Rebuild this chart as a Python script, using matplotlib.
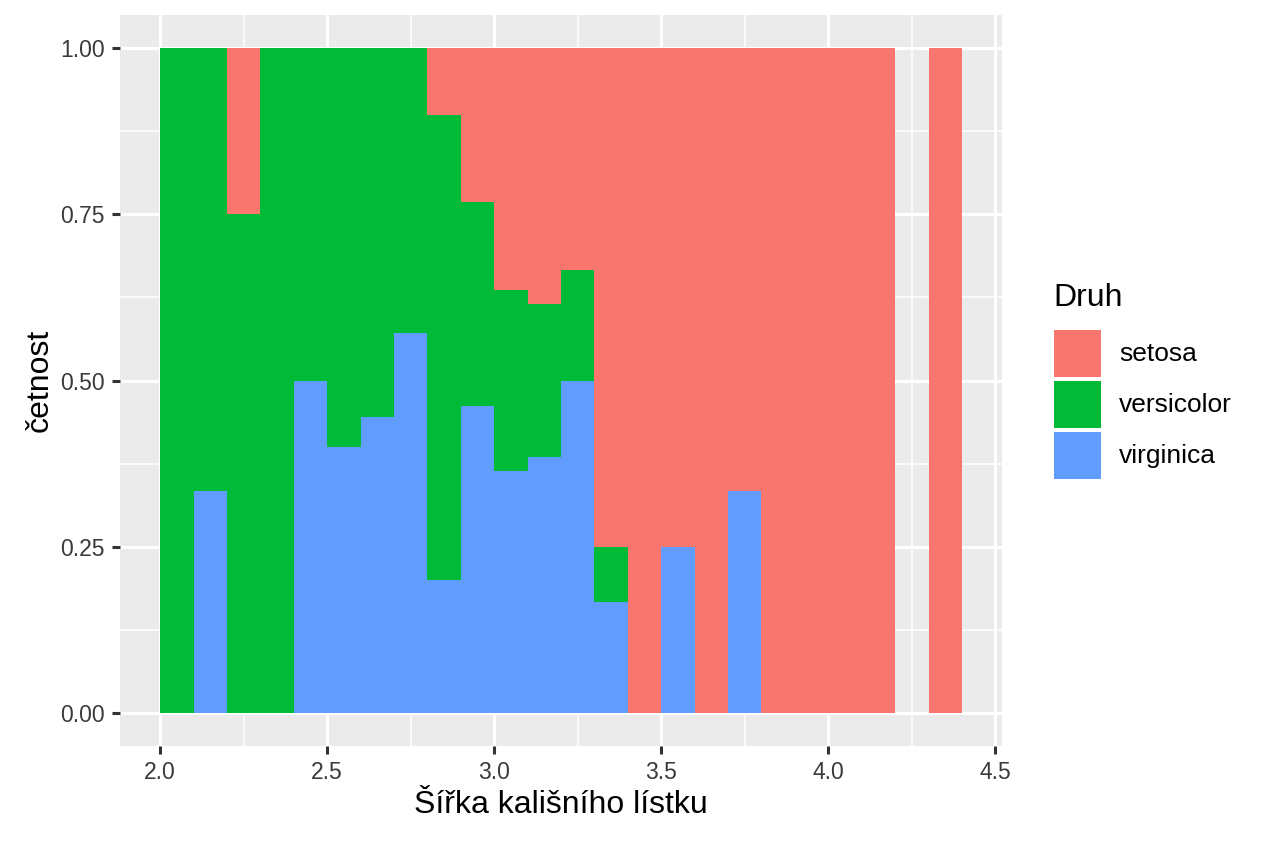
import numpy as np
import matplotlib.pyplot as plt
from matplotlib.patches import Rectangle

plt.rcParams['font.family'] = ['Liberation Sans', 'DejaVu Sans']

# bins of width 0.1 starting at 2.0 (Sepal width), counts per species
bin_left = [2.0, 2.1, 2.2, 2.3, 2.4, 2.5, 2.6, 2.7, 2.8, 2.9, 3.0, 3.1,
            3.2, 3.3, 3.4, 3.5, 3.6, 3.7, 3.8, 3.9, 4.0, 4.1, 4.2, 4.3]
setosa = [0, 0, 1, 0, 0, 0, 0, 0, 1, 6, 4, 5, 2, 9, 6, 3, 3, 4, 2, 1, 1, 1, 0, 1]
versicolor = [1, 2, 3, 3, 4, 3, 5, 6, 7, 8, 3, 3, 1, 1, 0, 0, 0, 0, 0, 0, 0, 0, 0, 0]
virginica = [0, 1, 0, 0, 4, 2, 4, 8, 2, 12, 4, 5, 3, 2, 0, 1, 0, 2, 0, 0, 0, 0, 0, 0]
species = ["setosa", "versicolor", "virginica"]
colors = ["#F8766D", "#00BA38", "#619CFF"]

counts = np.array([setosa, versicolor, virginica], dtype=float)
total = counts.sum(axis=0)
safe = np.where(total > 0, total, 1)
frac = counts / safe

W, H = 1264, 843
fig = plt.figure(figsize=(W/100, H/100), dpi=100)
ax = fig.add_axes([120/W, 1 - 746/H, (1002-120)/W, (746-15)/H])
ax.set_facecolor("#EBEBEB")

# stack: virginica at bottom, setosa on top
bottom = np.zeros(len(bin_left))
for i in [2, 1, 0]:
    ax.bar(bin_left, frac[i], width=0.1, bottom=bottom, align="edge",
           color=colors[i], linewidth=0, zorder=3)
    bottom = bottom + frac[i]

ax.set_xlim(1.88, 4.52)
ax.set_ylim(-0.05, 1.05)
ax.set_xticks([2.0, 2.5, 3.0, 3.5, 4.0, 4.5])
ax.set_xticklabels(["2.0", "2.5", "3.0", "3.5", "4.0", "4.5"])
ax.set_yticks([0, 0.25, 0.5, 0.75, 1.0])
ax.set_yticklabels(["0.00", "0.25", "0.50", "0.75", "1.00"])
ax.set_xticks([2.25, 2.75, 3.25, 3.75, 4.25], minor=True)
ax.set_yticks([0.125, 0.375, 0.625, 0.875], minor=True)
ax.grid(which="major", color="white", linewidth=2.2, zorder=1)
ax.grid(which="minor", color="white", linewidth=1.1, zorder=1)
ax.set_axisbelow(True)
for s in ax.spines.values():
    s.set_visible(False)
ax.tick_params(which="major", length=6, width=2.2, color="#333333",
               labelcolor="#3A3A3A", labelsize=16.5, pad=5)
ax.tick_params(which="minor", length=0)

ax.set_xlabel("Šířka kališního lístku", fontsize=23, labelpad=4)
ax.set_ylabel("četnost", fontsize=23, labelpad=4)

# legend drawn by hand (ggplot style)
fig.text(1053/W, 1 - 298/H, "Druh", fontsize=23, ha="left", va="center")
key_top = [330, 381, 432]
for c, lab, t in zip(colors, species, key_top):
    fig.add_artist(Rectangle((1054/W, 1 - (t + 47)/H), 47/W, 47/H,
                             facecolor=c, edgecolor="none",
                             transform=fig.transFigure))
    fig.text(1119/W, 1 - (t + 24)/H, lab, fontsize=19, ha="left", va="center")

fig.savefig("out.png", dpi=100, facecolor="white")
